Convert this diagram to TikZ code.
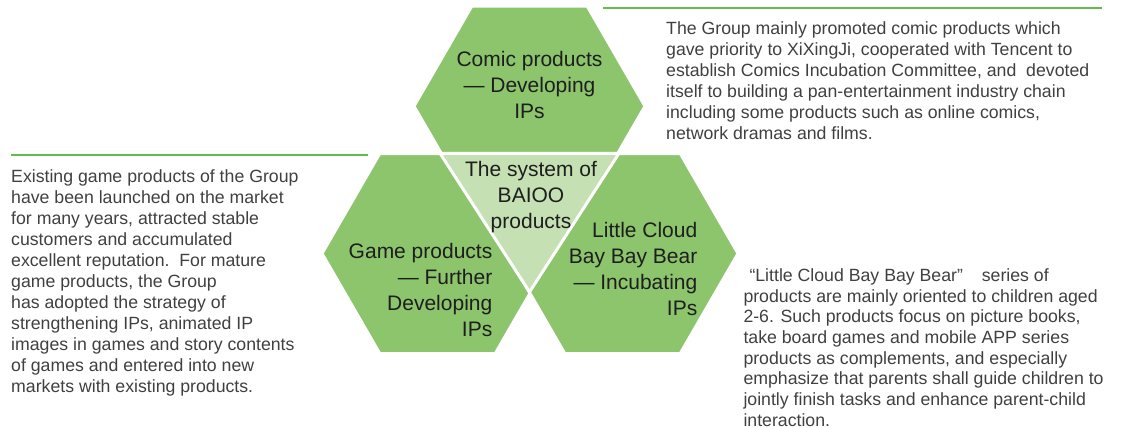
\documentclass[tikz,border=0pt]{standalone}
\usepackage{fontspec}
\setmainfont{Liberation Sans}
\definecolor{hexGreen}{HTML}{8DC56D}
\definecolor{coreGreen}{HTML}{C5E0B3}
\definecolor{ruleGreen}{HTML}{5FBF4A}
\definecolor{bodyGray}{HTML}{404040}
\definecolor{labelDark}{HTML}{1E1E1E}

\begin{document}
\begin{tikzpicture}[x=1pt, y=-1pt,
    hexa/.style={fill=hexGreen, draw=white, line width=3pt, line join=miter},
    core/.style={fill=coreGreen, draw=white, line width=3pt, line join=miter},
    rulel/.style={draw=ruleGreen, line width=2pt},
    hexlabel/.style={inner sep=0pt, text=labelDark,
                     font=\fontsize{21}{26}\selectfont},
    note/.style={inner sep=0pt, text=bodyGray, align=left,
                 font=\fontsize{17.7}{21}\selectfont},
  ]
    \useasboundingbox (0,0) rectangle (1132,428);

    % Three hexagons: comics on top, games left, bear right
    \foreach \cx/\cy in {529.5/106.2, 437.5/253.5, 622.5/253.5}{
      \draw[hexa] (\cx-115.5,\cy) -- (\cx-57.75,\cy-100) -- (\cx+57.75,\cy-100)
        -- (\cx+115.5,\cy) -- (\cx+57.75,\cy+100) -- (\cx-57.75,\cy+100) -- cycle;
    }
    % Core triangle in the middle
    \draw[core] (440,153.3) -- (619,153.3) -- (529.5,292) -- cycle;

    % Green rules above the notes
    \draw[rulel] (603,7.7) -- (1102,7.7);
    \draw[rulel] (11,154.7) -- (367.7,154.7);

    % Labels
    \node[hexlabel, align=center, anchor=north] (comic) at (529.5,51.5)
      {Comic products\\— Developing\\IPs};
    \node[hexlabel, align=right, anchor=north east] (game) at (492.5,243)
      {Game products\\— Further\\Developing\\IPs};
    \node[hexlabel, align=right, anchor=north east] (bear) at (697.5,222.5)
      {Little Cloud\\Bay Bay Bear\\— Incubating\\IPs};
    \node[hexlabel, align=center, anchor=north] (system) at (531,161)
      {The system of\\BAIOO\\products};

    % Notes
    \node[note, anchor=north west] (comicnote) at (666,21.5)
      {The Group mainly promoted comic products which\\
       gave priority to XiXingJi, cooperated with Tencent to\\
       establish Comics Incubation Committee, and\ \ devoted\\
       itself to building a pan-entertainment industry chain\\
       including some products such as online comics,\\
       network dramas and films.};
    \node[note, anchor=north west] (gamenote) at (11,169.3)
      {Existing game products of the Group\\
       have been launched on the market\\
       for many years, attracted stable\\
       customers and accumulated\\
       excellent reputation.\ \ For mature\\
       game products, the Group\\
       has adopted the strategy of\\
       strengthening IPs, animated IP\\
       images in games and story contents\\
       of games and entered into new\\
       markets with existing products.};
    \node[note, anchor=north west, font=\fontsize{17.7}{20.7}\selectfont]
      (bearnote) at (743.3,268.3)
      {\hspace*{6pt}“Little Cloud Bay Bay Bear”\hspace{14pt} series of\\
       products are mainly oriented to children aged\\
       2-6. Such products focus on picture books,\\
       take board games and mobile APP series\\
       products as complements, and especially\\
       emphasize that parents shall guide children to\\
       jointly finish tasks and enhance parent-child\\
       interaction.};
\end{tikzpicture}
\end{document}
